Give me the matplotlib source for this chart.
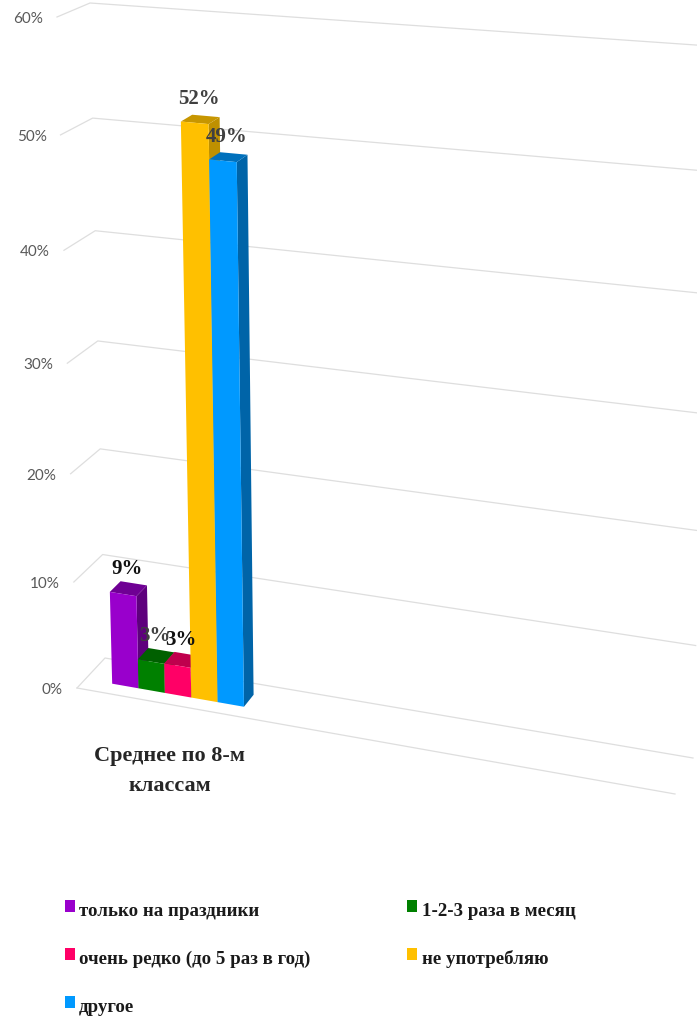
import numpy as np
import matplotlib
matplotlib.use('Agg')
import matplotlib.pyplot as plt
from matplotlib.patches import Polygon, Rectangle

categories = ['только на праздники', '1-2-3 раза в месяц', 'очень редко (до 5 раз в год)', 'не употребляю', 'другое']
values = [8.7, 2.75, 2.8, 51.6, 48.6]
group_label = 'Среднее по 8-м\nклассам'
axis_ticks = [0, 10, 20, 30, 40, 50, 60]
axis_max = 60

front_colors = ['#9900CC', '#008000', '#FF0066', '#FFC000', '#0099FF']
top_colors = ['#6F0094', '#006000', '#BF004D', '#C79600', '#0070BC']
side_colors = ['#5E007D', '#004D00', '#99003D', '#BF9000', '#0064A8']
label_colors = ['#111111', '#404040', '#111111', '#404040', '#404040']

W, H = 697, 1016
serif = 'Liberation Serif'

# corners of the 3d box as they land on the picture: (front/back, left/right)
floor = {'fl': (77, 688), 'fr': (675, 794), 'bl': (105, 658), 'br': (693, 758)}
roof = {'fl': (57, 17), 'fr': (692, 69), 'bl': (90, 3), 'br': (710, 46)}
persp = 0.066


def corner_mix(c, u, d):
    front = (1 - u) * np.array(c['fl'], float) + u * np.array(c['fr'], float)
    back = (1 - u) * np.array(c['bl'], float) + u * np.array(c['br'], float)
    return (1 - d) * front + d * back


def project(u, d, v):
    # u along the category axis, d into the depth, v is the value in percent
    t = v / axis_max
    t = t / (1 + persp * (1 - t))
    return (1 - t) * corner_mix(floor, u, d) + t * corner_mix(roof, u, d)


fig = plt.figure(figsize=(W / 100, H / 100), dpi=100)
ax = fig.add_axes([0, 0, 1, 1])
ax.set_xlim(0, W)
ax.set_ylim(H, 0)
ax.axis('off')

# walls and floor
grid_color = '#DEDEDE'
for v in axis_ticks:
    pts = np.array([project(0, 0, v), project(0, 1, v), project(1, 1, v)])
    ax.plot(pts[:, 0], pts[:, 1], color=grid_color, lw=0.9, zorder=1)
    x, y = project(0, 0, v)
    ax.text(x - 14, y + 2, '%d%%' % v, ha='right', va='center', fontsize=11,
            family='Lato', color='#595959')
pts = np.array([project(0, 0, 0), project(1, 0, 0)])
ax.plot(pts[:, 0], pts[:, 1], color=grid_color, lw=0.9, zorder=1)

# bars, left to right so each one hides the side of the previous
u0 = 0.045
bar_w = 0.0443
d0, d1 = 0.30, 0.68
for i, v in enumerate(values):
    a, b = u0 + i * bar_w, u0 + (i + 1) * bar_w
    front = [project(a, d0, 0), project(b, d0, 0), project(b, d0, v), project(a, d0, v)]
    side = [project(b, d0, 0), project(b, d1, 0), project(b, d1, v), project(b, d0, v)]
    top = [project(a, d0, v), project(b, d0, v), project(b, d1, v), project(a, d1, v)]
    z = 2 + i
    ax.add_patch(Polygon(side, closed=True, fc=side_colors[i], ec='none', zorder=z))
    ax.add_patch(Polygon(top, closed=True, fc=top_colors[i], ec='none', zorder=z))
    ax.add_patch(Polygon(front, closed=True, fc=front_colors[i], ec='none', zorder=z))

for i, v in enumerate(values):
    x, y = project(u0 + (i + 0.5) * bar_w, 0.5 * (d0 + d1), v)
    ax.text(x - 1.5, y - 20, '%.0f%%' % v, ha='center', va='center', fontsize=15,
            family=serif, weight='bold', color=label_colors[i], zorder=10)

ax.text(170, 771, group_label, ha='center', va='center', fontsize=16, family=serif,
        weight='bold', color='#262626', linespacing=1.65)

# legend
swatch_x = [65, 407]
swatch_y = [906, 953.5, 1001.5]
text_x = [79, 422]
baseline_y = [916, 964, 1012]
for i, name in enumerate(categories):
    col, row = i % 2, i // 2
    ax.add_patch(Rectangle((swatch_x[col], swatch_y[row] - 6), 10, 12, fc=front_colors[i], ec='none'))
    ax.text(text_x[col], baseline_y[row], name, ha='left', va='baseline', fontsize=13.6,
            family=serif, weight='bold', color='#1A1A1A')

fig.savefig('out.png', dpi=100)
